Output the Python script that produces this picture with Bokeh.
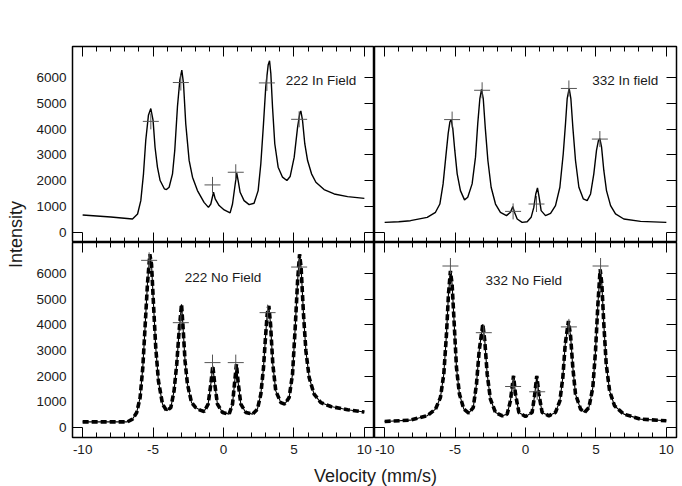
import math
from bokeh.plotting import figure
from bokeh.models import Range1d, LinearAxis, FixedTicker, Label
from bokeh.layouts import gridplot, row, column
from bokeh.embed import file_html
from bokeh.resources import INLINE

# ---------------- data ----------------
x_ticks = [-10, -5, 0, 5, 10]
x_tick_labels = {-10: "-10", -5: "-5", 0: "0", 5: "5", 10: "10"}
x_minor = list(range(-10, 11))
y_ticks = [0, 1000, 2000, 3000, 4000, 5000, 6000]

# 222 In Field
tl_x = [-10.0, -8.0, -6.46, -6.1, -5.87, -5.68, -5.52, -5.33, -5.16, -5.0, -4.86, -4.69, -4.5, -4.2,
        -4.05, -3.86, -3.62, -3.46, -3.27, -3.1, -2.96, -2.84, -2.68, -2.44, -2.2, -1.85, -1.38, -1.07,
        -0.9, -0.71, -0.59, -0.31, 0.05, 0.47, 0.64, 0.8, 0.94, 1.04, 1.18, 1.46, 1.82, 2.17, 2.46,
        2.65, 2.84, 3.0, 3.17, 3.27, 3.36, 3.48, 3.64, 3.88, 4.19, 4.5, 4.73, 5.02, 5.26, 5.42, 5.49,
        5.61, 5.77, 5.97, 6.25, 6.56, 7.14, 7.86, 8.81, 10.0]
tl_y = [676, 600, 520, 715, 1230, 2270, 3560, 4535, 4795, 4340, 3300, 2530, 2010, 1690,
        1660, 1750, 2270, 3175, 4860, 5895, 6285, 5770, 4210, 2790, 2140, 1620, 1165, 970,
        1100, 1555, 1300, 1040, 870, 755, 1100, 1750, 2295, 2010, 1555, 1230, 1075, 1130, 1620,
        2660, 4215, 5635, 6480, 6645, 6155, 4860, 3435, 2525, 2140, 2010, 2165, 2915, 4080, 4625, 4705,
        4340, 3435, 2785, 2270, 1945, 1660, 1490, 1385, 1320]
tl_px = [-5.16, -3.03, -0.78, 0.87, 3.08, 5.37]
tl_py = [4300, 5805, 1840, 2330, 5790, 4380]

# 332 In field
tr_x = [-10.0, -9.0, -8.17, -6.98, -6.39, -6.08, -5.85, -5.66, -5.49, -5.37, -5.28, -5.16, -5.02,
        -4.85, -4.62, -4.33, -4.1, -3.79, -3.55, -3.39, -3.24, -3.12, -3.0, -2.86, -2.67, -2.44,
        -2.13, -1.78, -1.35, -1.07, -0.9, -0.78, -0.59, -0.24, 0.12, 0.4, 0.59, 0.73, 0.85, 0.97,
        1.11, 1.42, 1.78, 2.13, 2.44, 2.68, 2.84, 2.96, 3.1, 3.22, 3.36, 3.55, 3.79, 4.1, 4.38,
        4.62, 4.85, 5.04, 5.18, 5.28, 5.4, 5.56, 5.75, 6.04, 6.39, 6.98, 8.17, 10.0]
tr_y = [390, 415, 455, 585, 780, 1100, 1880, 2915, 3825, 4275, 4370, 4020, 3175,
        2270, 1620, 1260, 1360, 1880, 2915, 4215, 5185, 5535, 5185, 4080, 2785, 1750,
        1100, 780, 650, 780, 1000, 780, 520, 390, 415, 585, 970, 1490, 1725, 1360,
        845, 650, 740, 1040, 1750, 3045, 4215, 5185, 5575, 5185, 4080, 2785, 1750, 1300, 1230,
        1490, 2270, 3175, 3565, 3630, 3305, 2400, 1620, 1040, 715, 520, 430, 390]
tr_px = [-5.21, -3.08, -0.88, 0.78, 3.08, 5.28]
tr_py = [4370, 5505, 815, 1100, 5575, 3615]

# 222 No Field
bl_x = [-10.0, -6.82, -6.46, -6.16, -5.92, -5.73, -5.57, -5.4, -5.23, -5.11, -4.97, -4.81, -4.62,
        -4.33, -4.03, -3.74, -3.51, -3.32, -3.15, -2.98, -2.87, -2.73, -2.56, -2.27, -1.97, -1.66,
        -1.38, -1.09, -0.9, -0.76, -0.62, -0.43, -0.07, 0.4, 0.64, 0.8, 0.92, 1.04, 1.23, 1.58,
        2.06, 2.41, 2.65, 2.84, 2.98, 3.1, 3.22, 3.34, 3.5, 3.71, 4.07, 4.35, 4.66, 4.9, 5.09,
        5.26, 5.4, 5.51, 5.68, 5.85, 6.08, 6.43, 6.91, 7.62, 8.81, 10.0]
bl_y = [220, 220, 325, 585, 1165, 2330, 3885, 5575, 6740, 6350, 4795, 3110, 1815,
        910, 650, 775, 1425, 2465, 3760, 4795, 3885, 2590, 1685, 970, 775, 675,
        620, 910, 1685, 2400, 1685, 910, 585, 520, 910, 1815, 2465, 1750, 910, 585,
        520, 715, 1295, 2330, 3500, 4405, 4730, 4020, 2465, 1425, 970, 910, 1165, 2075, 3885,
        5700, 6740, 6220, 4405, 2980, 1945, 1300, 970, 815, 690, 600]
bl_px = [-5.28, -3.03, -0.78, 0.87, 3.13, 5.37]
bl_py = [6505, 4080, 2525, 2525, 4470, 6245]

# 332 No Field
br_x = [-10.0, -8.17, -6.98, -6.39, -6.04, -5.8, -5.61, -5.47, -5.33, -5.21, -5.06, -4.9, -4.69,
        -4.38, -4.03, -3.71, -3.48, -3.29, -3.03, -2.89, -2.72, -2.49, -2.13, -1.65, -1.3, -1.07,
        -0.85, -0.71, -0.47, 0.0, 0.47, 0.66, 0.8, 0.95, 1.18, 1.66, 2.13, 2.44, 2.65, 2.82, 3.05,
        3.2, 3.36, 3.55, 3.91, 4.19, 4.5, 4.78, 4.97, 5.14, 5.3, 5.42, 5.56, 5.73, 5.97, 6.32,
        6.98, 8.17, 10.0]
br_y = [235, 285, 455, 715, 1165, 2075, 3630, 5185, 6090, 5575, 4020, 2330, 1300,
        715, 560, 775, 1685, 2980, 4020, 3370, 2075, 1100, 585, 455, 520, 1035,
        2010, 1300, 585, 430, 585, 1300, 2010, 1300, 585, 455, 585, 1035, 1945, 3240, 4145,
        3565, 2330, 1300, 715, 585, 775, 1555, 2980, 4795, 6155, 5575, 4020, 2465, 1425, 845,
        520, 325, 260]
br_px = [-5.33, -2.96, -0.88, 0.83, 3.08, 5.33]
br_py = [6285, 3690, 1595, 1390, 3915, 6285]

titles = ["222 In Field", "332 In field", "222 No Field", "332 No Field"]

# ---------------- styling / helpers ----------------
FONT = "Liberation Sans"
TICK_FS = "13.5px"


def add_axis(p, side, ticks, minor, tin, minor_in, show_labels, overrides=None):
    ax = LinearAxis(ticker=FixedTicker(ticks=ticks, minor_ticks=minor))
    ax.axis_line_color = None
    ax.major_tick_in = tin
    ax.major_tick_out = 0
    ax.minor_tick_in = minor_in
    ax.minor_tick_out = 0
    ax.major_tick_line_color = "black" if tin > 0 else None
    ax.major_tick_line_width = 1
    ax.minor_tick_line_color = "black"
    ax.minor_tick_line_width = 1
    if show_labels:
        ax.major_label_text_font = FONT
        ax.major_label_text_font_size = TICK_FS
        ax.major_label_text_color = "#1a1a1a"
        ax.major_label_standoff = 7 if side == "below" else 6
        if overrides:
            ax.major_label_overrides = overrides
    else:
        ax.major_label_text_font_size = "0px"
        ax.major_label_standoff = 0
        ax.major_label_overrides = {t: "" for t in ticks}
    p.add_layout(ax, side)


def make_panel(width, height, mbl, mbr, mbt, mbb, xlab, ylab):
    p = figure(width=width, height=height, output_backend="svg", toolbar_location=None,
               x_range=Range1d(-10.72, 10.72), y_range=Range1d(-390, 7200),
               x_axis_type=None, y_axis_type=None,
               min_border_left=mbl, min_border_right=mbr,
               min_border_top=mbt, min_border_bottom=mbb)
    p.outline_line_color = "black"
    p.outline_line_width = 1.5
    p.outline_line_alpha = 1.0
    p.background_fill_color = "white"
    p.border_fill_color = "white"
    add_axis(p, "below", x_ticks, x_minor, 10, 5, xlab, x_tick_labels)
    add_axis(p, "above", x_ticks, x_minor, 10, 5, False)
    add_axis(p, "left", y_ticks, [0], 0, 10, ylab)
    add_axis(p, "right", y_ticks, [], 10, 0, False)
    return p


W_L, W_R = 346, 308
H_T, H_B = 242, 221

p_tl = make_panel(W_L, H_T, 44, 0, 46, 0, False, True)
p_tr = make_panel(W_R, H_T, 0, 6, 46, 0, False, False)
p_bl = make_panel(W_L, H_B, 44, 0, 0, 26, True, True)
p_br = make_panel(W_R, H_B, 0, 6, 0, 26, True, False)

# in-field spectra: thin solid lines
p_tl.line(tl_x, tl_y, line_color="black", line_width=1.4)
p_tr.line(tr_x, tr_y, line_color="black", line_width=1.4)

# no-field spectra: thick dashed data with thin solid fit
for p, xs, ys in [(p_bl, bl_x, bl_y), (p_br, br_x, br_y)]:
    p.line(xs, ys, line_color="black", line_width=3.6, line_dash="6 3")
    p.line(xs, ys, line_color="black", line_width=1.1)

for p, xs, ys in [(p_tl, tl_px, tl_py), (p_tr, tr_px, tr_py), (p_bl, bl_px, bl_py), (p_br, br_px, br_py)]:
    p.scatter(xs, ys, marker="cross", size=16, line_color="#555555", line_width=1)

label_pos = [(p_tl, 4.42, 5896), (p_tr, 4.74, 5870), (p_bl, -2.75, 5830), (p_br, -2.84, 5740)]
for (p, lx, ly), t in zip(label_pos, titles):
    p.add_layout(Label(x=lx, y=ly, text=t, text_font=FONT, text_font_size="13.5px",
                       text_baseline="middle", text_align="left", text_color="#1a1a1a"))

grid = gridplot([[p_tl, p_tr], [p_bl, p_br]], toolbar_location=None)

GRID_H = H_T + H_B
ylab = figure(width=28, height=GRID_H, output_backend="svg", toolbar_location=None,
              x_range=Range1d(0, 28), y_range=Range1d(0, GRID_H),
              x_axis_type=None, y_axis_type=None, min_border=0)
ylab.outline_line_color = None
ylab.add_layout(Label(x=15, y=GRID_H - 234, text="Intensity", angle=math.pi / 2,
                      text_align="center", text_baseline="middle",
                      text_font=FONT, text_font_size="18px", text_color="#1a1a1a"))

XL_H = 486 - GRID_H
xlab = figure(width=682, height=XL_H, output_backend="svg", toolbar_location=None,
              x_range=Range1d(0, 682), y_range=Range1d(0, XL_H),
              x_axis_type=None, y_axis_type=None, min_border=0)
xlab.outline_line_color = None
xlab.add_layout(Label(x=375, y=XL_H - (475 - GRID_H), text="Velocity (mm/s)",
                      text_align="center", text_baseline="middle",
                      text_font=FONT, text_font_size="18px", text_color="#1a1a1a"))

layout = column(row(ylab, grid), xlab)

open("out.html", "w").write(file_html(layout, INLINE))
